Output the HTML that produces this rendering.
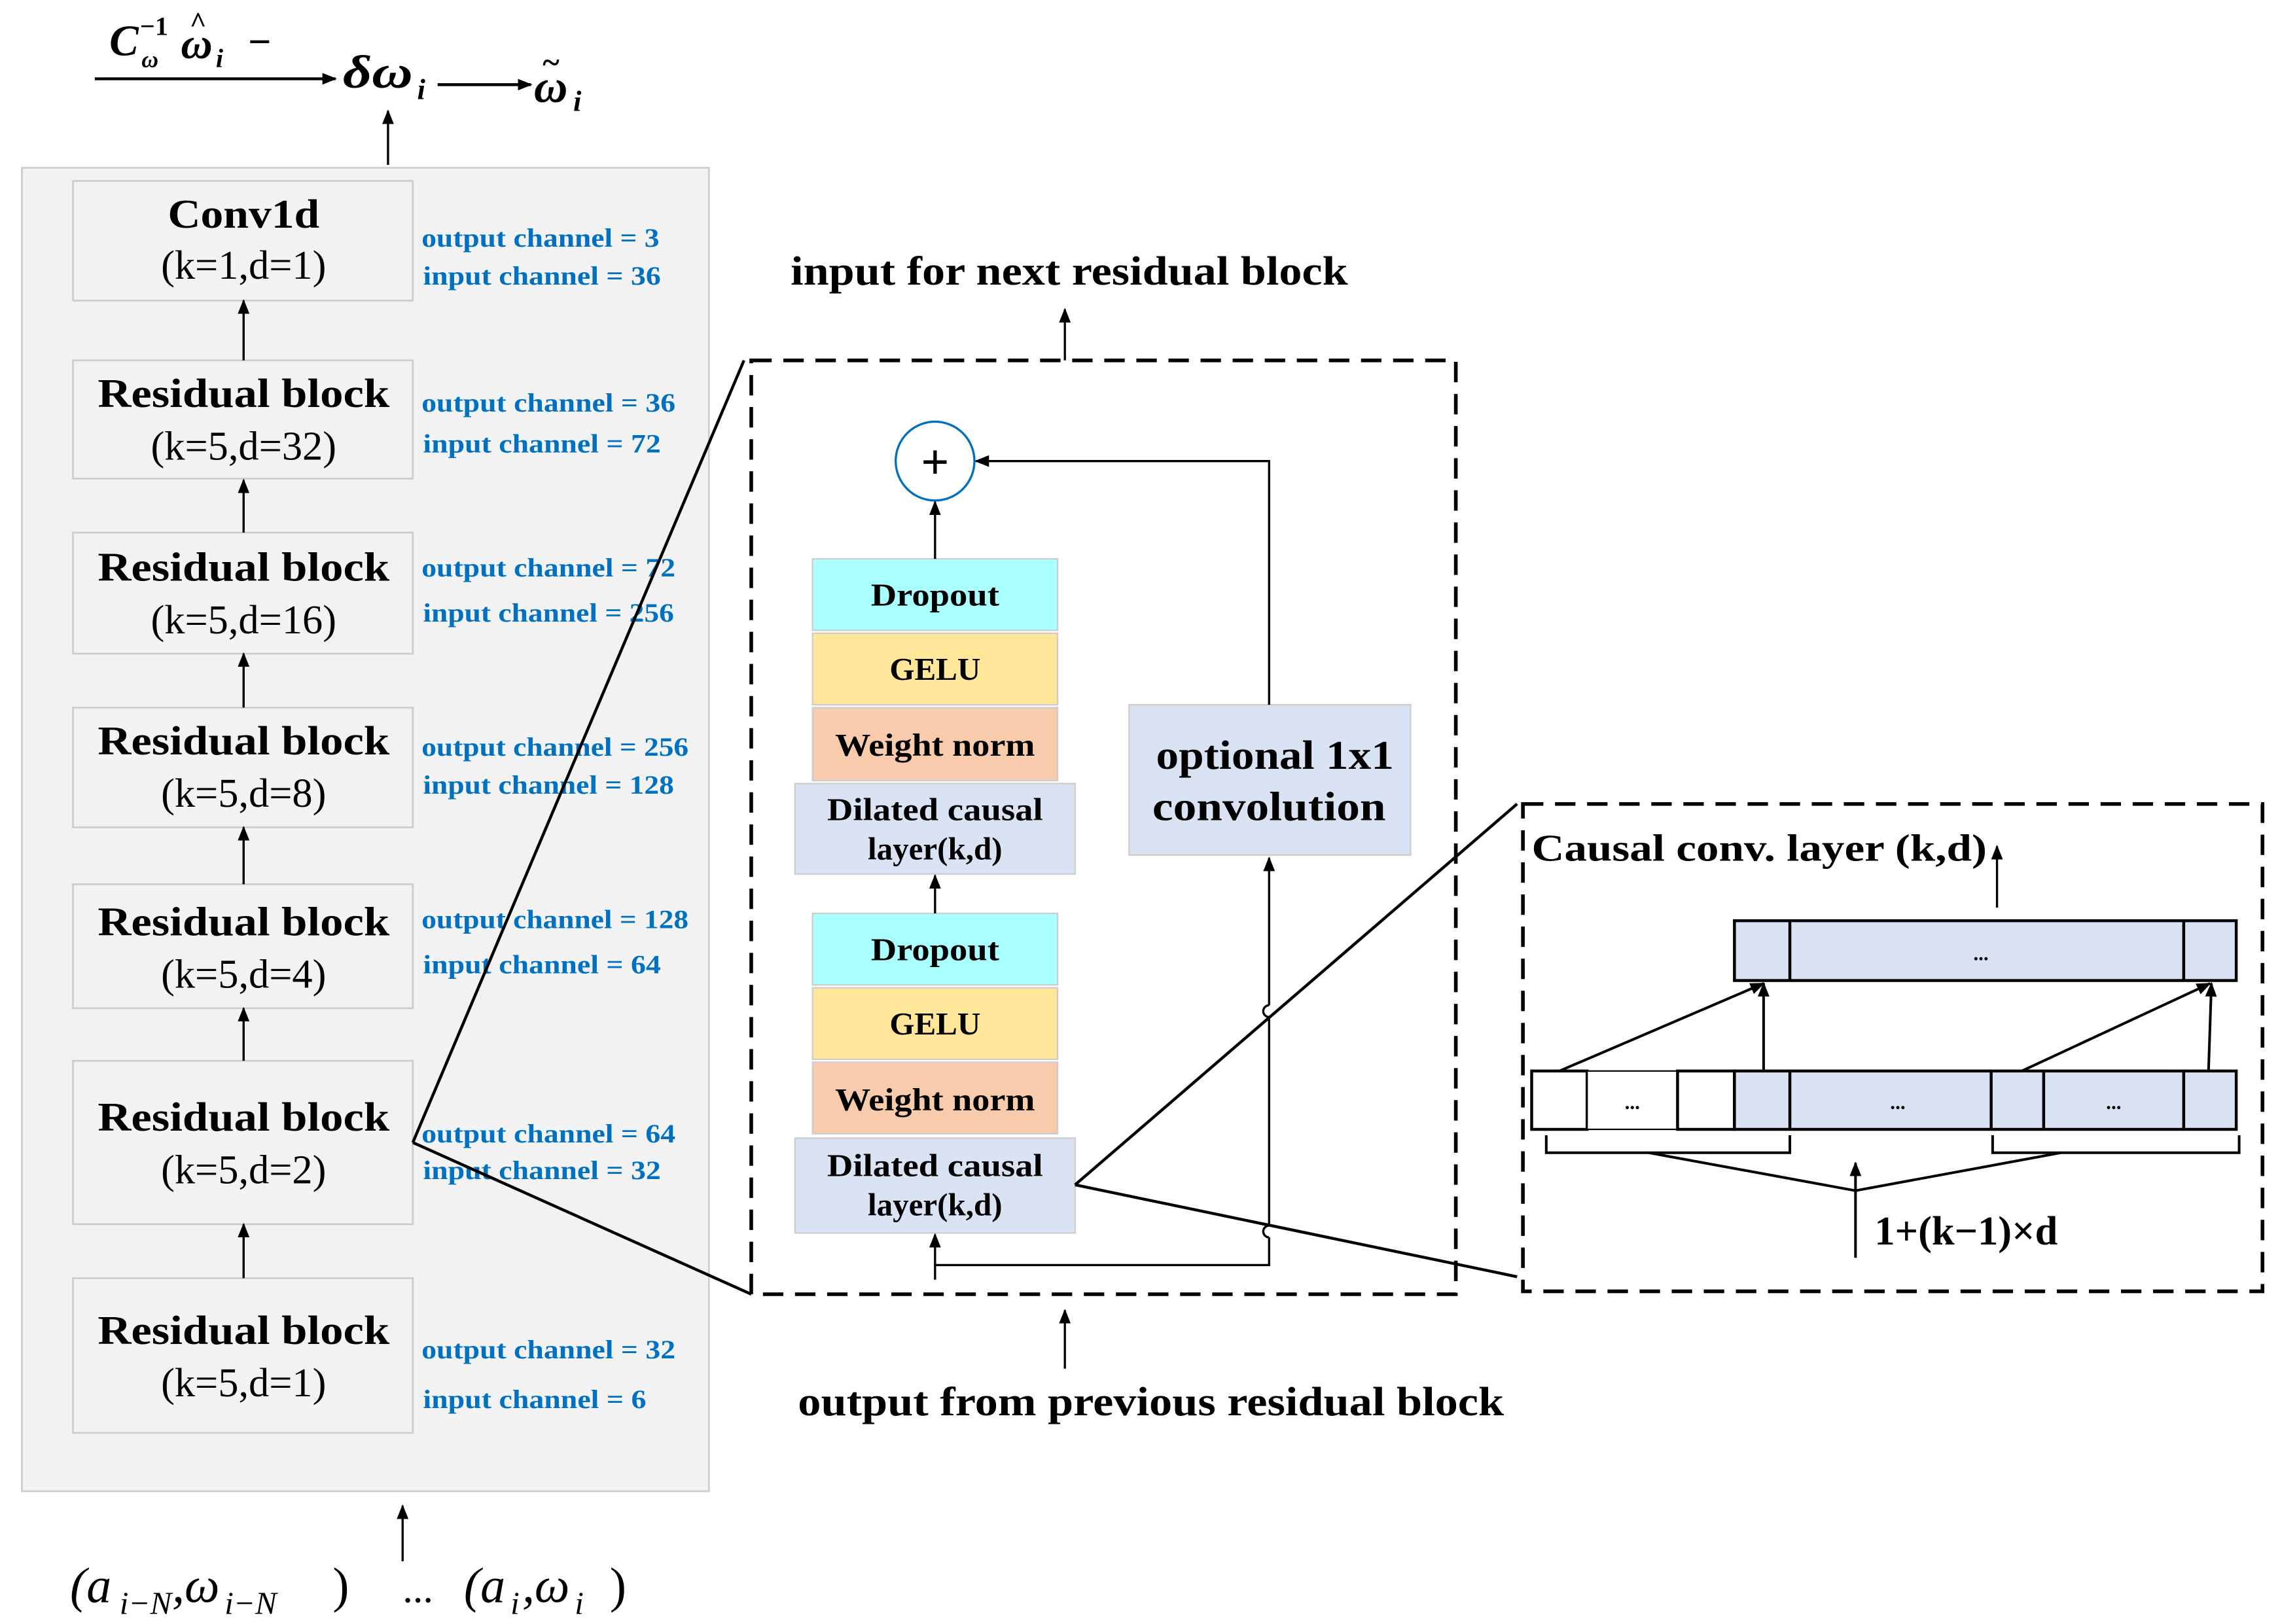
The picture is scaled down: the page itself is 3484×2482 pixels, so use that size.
<!DOCTYPE html>
<html><head><meta charset="utf-8"><style>html,body{margin:0;padding:0;background:#fff}svg{display:block}</style></head>
<body>
<svg width="3484" height="2482" viewBox="0 0 1563 1113" preserveAspectRatio="none" xmlns="http://www.w3.org/2000/svg" font-family="'Liberation Serif', serif">
<defs>
<marker id="ah" markerWidth="10" markerHeight="10" refX="9" refY="5" orient="auto" markerUnits="userSpaceOnUse"><path d="M0,1 L10,5 L0,9 z" fill="#000"/></marker>
</defs>
<!-- top formula -->
<text x="75" y="38" font-size="30" font-style="italic" font-weight="bold">C</text>
<text x="97" y="46" font-size="16" font-style="italic" font-weight="bold">ω</text>
<text x="96" y="24" font-size="18" font-weight="bold">−1</text>
<text x="124" y="40" font-size="30" font-style="italic" font-weight="bold">ω</text>
<text x="130" y="22" font-size="20" font-weight="bold">^</text>
<text x="148" y="46" font-size="18" font-style="italic" font-weight="bold">i</text>
<text x="170" y="38" font-size="28" font-weight="bold">−</text>
<line x1="65" y1="54" x2="230" y2="54" stroke="#000" stroke-width="2" marker-end="url(#ah)"/>
<text x="235" y="60" font-size="32" font-style="italic" font-weight="bold" textLength="48" lengthAdjust="spacingAndGlyphs">δω</text>
<text x="286" y="68" font-size="20" font-style="italic" font-weight="bold">i</text>
<line x1="300" y1="58" x2="364" y2="58" stroke="#000" stroke-width="2" marker-end="url(#ah)"/>
<text x="366" y="70" font-size="32" font-style="italic" font-weight="bold">ω</text>
<text x="372" y="50" font-size="22" font-weight="bold">~</text>
<text x="393" y="76" font-size="20" font-style="italic" font-weight="bold">i</text>
<line x1="266" y1="113" x2="266" y2="76" stroke="#000" stroke-width="1.5" marker-end="url(#ah)"/>

<!-- left panel -->
<rect x="15" y="115" width="471" height="907" fill="#f2f2f2" stroke="#ccc" stroke-width="1.2"/>
<g fill="#f2f2f2" stroke="#ccc" stroke-width="1.2">
<rect x="50" y="124" width="233" height="82"/>
<rect x="50" y="247" width="233" height="81"/>
<rect x="50" y="365" width="233" height="83"/>
<rect x="50" y="485" width="233" height="82"/>
<rect x="50" y="606" width="233" height="85"/>
<rect x="50" y="727" width="233" height="112"/>
<rect x="50" y="876" width="233" height="106"/>
</g>
<g text-anchor="middle" font-size="28">
<text x="167" y="156" font-weight="bold" textLength="104" lengthAdjust="spacingAndGlyphs">Conv1d</text><text x="167" y="191">(k=1,d=1)</text>
<text x="167" y="279" font-weight="bold" textLength="200" lengthAdjust="spacingAndGlyphs">Residual block</text><text x="167" y="315">(k=5,d=32)</text>
<text x="167" y="398" font-weight="bold" textLength="200" lengthAdjust="spacingAndGlyphs">Residual block</text><text x="167" y="434">(k=5,d=16)</text>
<text x="167" y="517" font-weight="bold" textLength="200" lengthAdjust="spacingAndGlyphs">Residual block</text><text x="167" y="553">(k=5,d=8)</text>
<text x="167" y="641" font-weight="bold" textLength="200" lengthAdjust="spacingAndGlyphs">Residual block</text><text x="167" y="677">(k=5,d=4)</text>
<text x="167" y="775" font-weight="bold" textLength="200" lengthAdjust="spacingAndGlyphs">Residual block</text><text x="167" y="811">(k=5,d=2)</text>
<text x="167" y="921" font-weight="bold" textLength="200" lengthAdjust="spacingAndGlyphs">Residual block</text><text x="167" y="957">(k=5,d=1)</text>
</g>
<g stroke="#000" stroke-width="1.5" marker-end="url(#ah)">
<line x1="167" y1="247" x2="167" y2="206"/>
<line x1="167" y1="365" x2="167" y2="329"/>
<line x1="167" y1="485" x2="167" y2="448"/>
<line x1="167" y1="606" x2="167" y2="567"/>
<line x1="167" y1="727" x2="167" y2="691"/>
<line x1="167" y1="876" x2="167" y2="839"/>
<line x1="276" y1="1070" x2="276" y2="1032"/>
</g>
<g fill="#0070c0" font-size="18" font-weight="bold">
<text x="289" y="169" textLength="163" lengthAdjust="spacingAndGlyphs">output channel = 3</text><text x="290" y="195" textLength="163" lengthAdjust="spacingAndGlyphs">input channel = 36</text>
<text x="289" y="282" textLength="174" lengthAdjust="spacingAndGlyphs">output channel = 36</text><text x="290" y="310" textLength="163" lengthAdjust="spacingAndGlyphs">input channel = 72</text>
<text x="289" y="395" textLength="174" lengthAdjust="spacingAndGlyphs">output channel = 72</text><text x="290" y="426" textLength="172" lengthAdjust="spacingAndGlyphs">input channel = 256</text>
<text x="289" y="518" textLength="183" lengthAdjust="spacingAndGlyphs">output channel = 256</text><text x="290" y="544" textLength="172" lengthAdjust="spacingAndGlyphs">input channel = 128</text>
<text x="289" y="636" textLength="183" lengthAdjust="spacingAndGlyphs">output channel = 128</text><text x="290" y="667" textLength="163" lengthAdjust="spacingAndGlyphs">input channel = 64</text>
<text x="289" y="783" textLength="174" lengthAdjust="spacingAndGlyphs">output channel = 64</text><text x="290" y="808" textLength="163" lengthAdjust="spacingAndGlyphs">input channel = 32</text>
<text x="289" y="931" textLength="174" lengthAdjust="spacingAndGlyphs">output channel = 32</text><text x="290" y="965" textLength="153" lengthAdjust="spacingAndGlyphs">input channel = 6</text>
</g>
<text x="48" y="1098" font-size="34" font-style="italic">(a</text>
<text x="82" y="1106" font-size="22" font-style="italic">i−N</text>
<text x="118" y="1098" font-size="34" font-style="italic">,ω</text>
<text x="154" y="1106" font-size="22" font-style="italic">i−N</text>
<text x="228" y="1098" font-size="34">)</text>
<text x="276" y="1098" font-size="28">...</text>
<text x="318" y="1098" font-size="34" font-style="italic">(a</text>
<text x="350" y="1106" font-size="22" font-style="italic">i</text>
<text x="358" y="1098" font-size="34" font-style="italic">,ω</text>
<text x="394" y="1106" font-size="22" font-style="italic">i</text>
<text x="418" y="1098" font-size="34">)</text>

<!-- zoom lines -->
<line x1="283" y1="783" x2="510" y2="247" stroke="#000" stroke-width="2"/>
<line x1="283" y1="783" x2="515" y2="887" stroke="#000" stroke-width="2"/>

<!-- middle panel -->
<rect x="515" y="247" width="483" height="640" fill="none" stroke="#000" stroke-width="2.5" stroke-dasharray="14,8"/>
<text x="733" y="195" font-size="28" font-weight="bold" text-anchor="middle" textLength="382" lengthAdjust="spacingAndGlyphs">input for next residual block</text>
<line x1="730" y1="247" x2="730" y2="212" stroke="#000" stroke-width="1.5" marker-end="url(#ah)"/>
<text x="789" y="970" font-size="28" font-weight="bold" text-anchor="middle" textLength="484" lengthAdjust="spacingAndGlyphs">output from previous residual block</text>
<line x1="730" y1="938" x2="730" y2="898" stroke="#000" stroke-width="1.5" marker-end="url(#ah)"/>

<g stroke="#ccc" stroke-width="1">
<rect x="557" y="383" width="168" height="49" fill="#aaffff"/>
<rect x="557" y="434" width="168" height="49" fill="#ffe699"/>
<rect x="557" y="485" width="168" height="50" fill="#f8cbad"/>
<rect x="545" y="537" width="192" height="62" fill="#dae3f3"/>
<rect x="557" y="626" width="168" height="49" fill="#aaffff"/>
<rect x="557" y="677" width="168" height="49" fill="#ffe699"/>
<rect x="557" y="728" width="168" height="49" fill="#f8cbad"/>
<rect x="545" y="780" width="192" height="65" fill="#dae3f3"/>
<rect x="774" y="483" width="193" height="103" fill="#dae3f3"/>
</g>
<g font-size="22" font-weight="bold" text-anchor="middle">
<text x="641" y="415" textLength="88" lengthAdjust="spacingAndGlyphs">Dropout</text>
<text x="641" y="466">GELU</text>
<text x="641" y="518" textLength="137" lengthAdjust="spacingAndGlyphs">Weight norm</text>
<text x="641" y="562" textLength="148" lengthAdjust="spacingAndGlyphs">Dilated causal</text><text x="641" y="589">layer(k,d)</text>
<text x="641" y="658" textLength="88" lengthAdjust="spacingAndGlyphs">Dropout</text>
<text x="641" y="709">GELU</text>
<text x="641" y="761" textLength="137" lengthAdjust="spacingAndGlyphs">Weight norm</text>
<text x="641" y="806" textLength="148" lengthAdjust="spacingAndGlyphs">Dilated causal</text><text x="641" y="833">layer(k,d)</text>
<text x="874" y="527" font-size="28" textLength="163" lengthAdjust="spacingAndGlyphs">optional 1x1</text><text x="870" y="562" font-size="28" textLength="160" lengthAdjust="spacingAndGlyphs">convolution</text>
</g>
<circle cx="641" cy="316" r="27" fill="#fff" stroke="#0070c0" stroke-width="1.5"/>
<text x="641" y="328" font-size="34" font-weight="bold" text-anchor="middle">+</text>
<g stroke="#000" stroke-width="1.5" fill="none">
<line x1="641" y1="383" x2="641" y2="344" marker-end="url(#ah)"/>
<line x1="641" y1="626" x2="641" y2="600" marker-end="url(#ah)"/>
<line x1="641" y1="877" x2="641" y2="846" marker-end="url(#ah)"/>
<polyline points="870,483 870,316 669,316" marker-end="url(#ah)"/>
<polyline points="641,867 870,867 870,848"/>
<path d="M870,848 a4,4 0 0 1 0,-8" />
<line x1="870" y1="840" x2="870" y2="697"/>
<path d="M870,697 a4,4 0 0 1 0,-8" />
<line x1="870" y1="689" x2="870" y2="588" marker-end="url(#ah)"/>
</g>
<line x1="737" y1="812" x2="1040" y2="551" stroke="#000" stroke-width="2"/>
<line x1="737" y1="812" x2="1040" y2="875" stroke="#000" stroke-width="2"/>

<!-- right panel -->
<rect x="1044" y="551" width="507" height="334" fill="none" stroke="#000" stroke-width="2.5" stroke-dasharray="14,8"/>
<text x="1050" y="590" font-size="26" font-weight="bold" textLength="312" lengthAdjust="spacingAndGlyphs">Causal conv. layer (k,d)</text>
<line x1="1369" y1="622" x2="1369" y2="580" stroke="#000" stroke-width="1.5" marker-end="url(#ah)"/>
<g stroke="#000" stroke-width="2">
<rect x="1189" y="631" width="344" height="41" fill="#dae3f3"/>
<line x1="1227" y1="631" x2="1227" y2="672"/><line x1="1497" y1="631" x2="1497" y2="672"/>
<rect x="1050" y="734" width="38" height="40" fill="#fff"/>
<rect x="1088" y="734" width="62" height="40" fill="#fff" stroke-width="1"/>
<rect x="1150" y="734" width="39" height="40" fill="#fff"/>
<rect x="1189" y="734" width="344" height="40" fill="#dae3f3"/>
<line x1="1227" y1="734" x2="1227" y2="774"/><line x1="1365" y1="734" x2="1365" y2="774"/>
<line x1="1401" y1="734" x2="1401" y2="774"/><line x1="1497" y1="734" x2="1497" y2="774"/>
</g>
<g font-size="14" font-weight="bold" text-anchor="middle">
<text x="1358" y="658">...</text><text x="1119" y="760">...</text><text x="1301" y="760">...</text><text x="1449" y="760">...</text>
</g>
<g stroke="#000" stroke-width="1.8" fill="none">
<line x1="1069" y1="734" x2="1209" y2="674" marker-end="url(#ah)"/>
<line x1="1209" y1="734" x2="1209" y2="674" marker-end="url(#ah)"/>
<line x1="1386" y1="734" x2="1515" y2="674" marker-end="url(#ah)"/>
<line x1="1514" y1="734" x2="1516" y2="674" marker-end="url(#ah)"/>
<polyline points="1060,778 1060,790 1227,790 1227,778"/>
<polyline points="1366,778 1366,790 1535,790 1535,778"/>
<polyline points="1130,790 1272,816 1413,790"/>
<line x1="1272" y1="862" x2="1272" y2="797" marker-end="url(#ah)"/>
</g>
<text x="1285" y="853" font-size="28" font-weight="bold">1+(k−1)×d</text>
</svg>
</body></html>
